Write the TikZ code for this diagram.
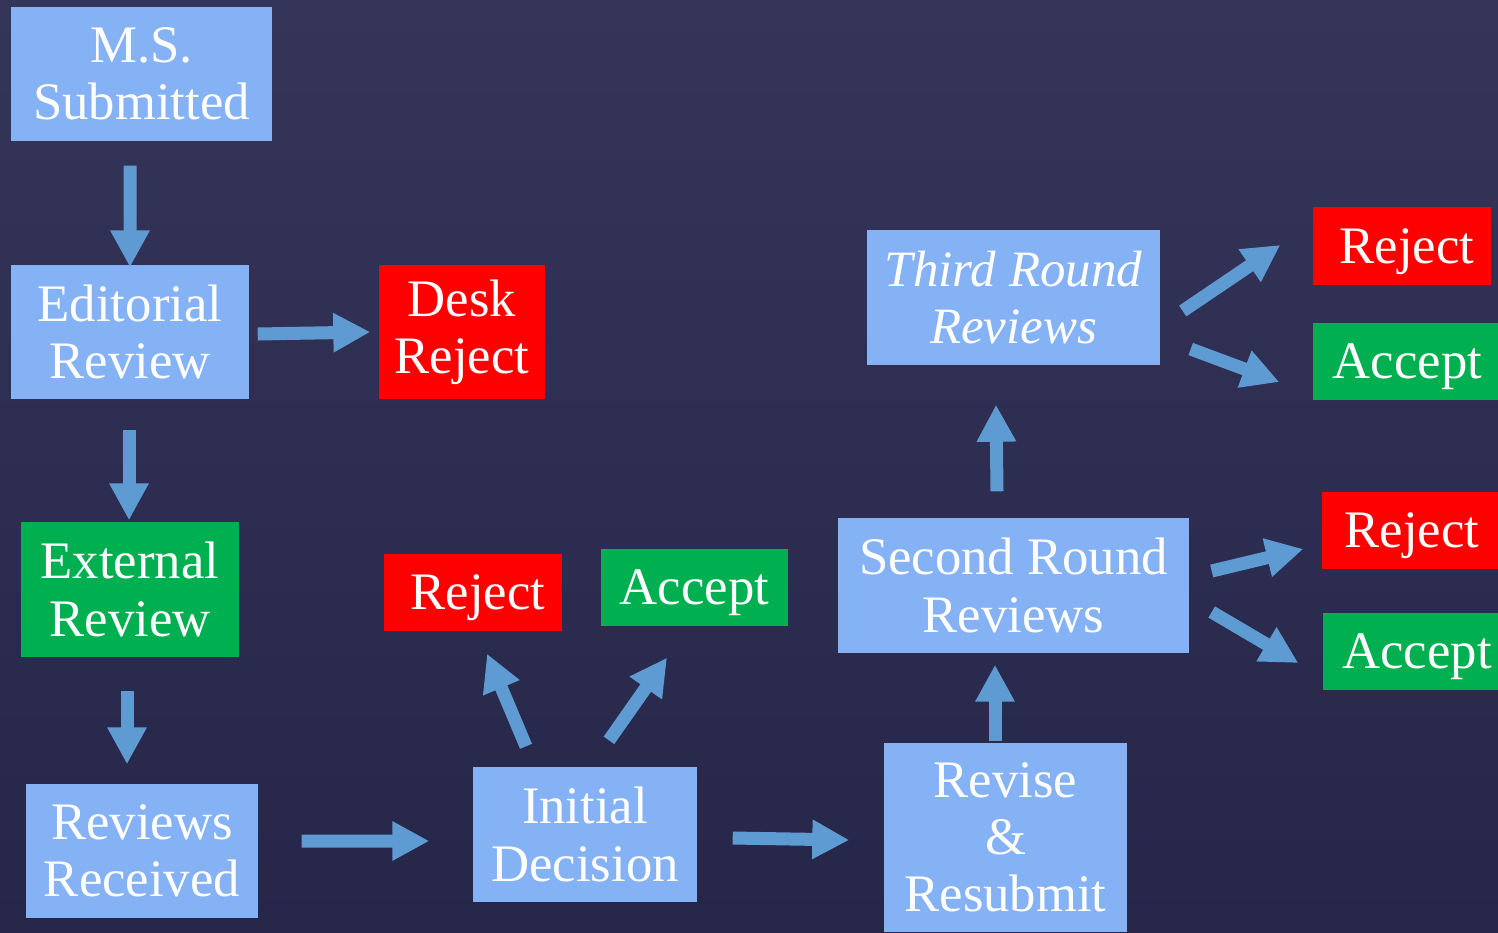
\documentclass[tikz,border=0pt]{standalone}
\usepackage{fontspec}
\setmainfont{Liberation Serif}
\usetikzlibrary{arrows.meta}

\definecolor{bgtop}{HTML}{35355A}
\definecolor{bgbot}{HTML}{262649}
\definecolor{boxblue}{HTML}{85B1F5}
\definecolor{arrowblue}{HTML}{5F9BD3}
\definecolor{rejred}{HTML}{FF0000}
\definecolor{accgreen}{HTML}{00B050}

\tikzset{
  stage/.style={fill=boxblue, text=white, align=center, inner sep=0pt,
    font=\fontsize{15}{16.3}\selectfont},
  rejbox/.style={stage, fill=rejred},
  accbox/.style={stage, fill=accgreen},
  verdict/.style={text depth=0pt},
  flow/.style={draw=arrowblue, line width=1.3mm,
    -{Triangle[width=3.7mm,length=3.7mm]}},
}

\begin{document}
\begin{tikzpicture}

% background
\useasboundingbox (0,0) rectangle (14.98,-9.32);
\shade[top color=bgtop, bottom color=bgbot] (0,0) rectangle (14.98,-9.32);
\clip (0,0) rectangle (14.98,-9.32);

% first round
\node[stage, minimum width=2.61cm, minimum height=1.34cm] (ms) at (1.415,-0.74) {M.S.\\Submitted};
\node[stage, minimum width=2.38cm, minimum height=1.34cm] (edit) at (1.30,-3.32) {Editorial\\Review};
\node[rejbox, minimum width=1.66cm, minimum height=1.34cm] (desk) at (4.62,-3.32) {Desk\\Reject};
\node[accbox, minimum width=2.18cm, minimum height=1.35cm] (ext) at (1.30,-5.895) {External\\Review};
\node[stage, minimum width=2.32cm, minimum height=1.34cm] (recv) at (1.42,-8.51) {Reviews\\Received};
\node[stage, minimum width=2.24cm, minimum height=1.35cm] (init) at (5.85,-8.345) {Initial\\Decision};
\node[rejbox, verdict, minimum width=1.78cm, minimum height=0.77cm] (rej1) at (4.73,-5.925) {\hspace*{0.1cm}Reject};
\node[accbox, verdict, minimum width=1.87cm, minimum height=0.77cm] (acc1) at (6.945,-5.875) {Accept};

% later rounds
\node[stage, minimum width=2.43cm, minimum height=1.89cm] (rev) at (10.055,-8.375) {Revise\\\&\\Resubmit};
\node[stage, minimum width=3.51cm, minimum height=1.35cm] (sec) at (10.135,-5.855) {Second Round\\Reviews};
\node[stage, minimum width=2.93cm, minimum height=1.35cm, font=\fontsize{14.5}{16.3}\selectfont\itshape] (third) at (10.135,-2.975) {Third Round\\Reviews};
\node[rejbox, verdict, minimum width=1.78cm, minimum height=0.78cm] (rej3) at (14.02,-2.46) {\hspace*{0.1cm}Reject};
\node[accbox, verdict, minimum width=1.89cm, minimum height=0.77cm] (acc3) at (14.075,-3.615) {Accept};
\node[rejbox, verdict, minimum width=1.80cm, minimum height=0.77cm] (rej2) at (14.12,-5.305) {Reject};
\node[accbox, verdict, minimum width=1.88cm, minimum height=0.77cm] (acc2) at (14.17,-6.515) {Accept};

% arrows
\draw[flow] ([shift={(-0.115,-0.24)}]ms.south) -- ([shift={(0,-0.03)}]edit.north);
\draw[flow] ([shift={(0.08,-0.02)}]edit.east) -- ([shift={(-0.08,0)}]desk.west);
\draw[flow] ([shift={(-0.01,-0.30)}]edit.south) -- ([shift={(-0.01,0.01)}]ext.north);
\draw[flow] ([shift={(-0.03,-0.33)}]ext.south) -- ([shift={(-0.15,0.19)}]recv.north);
\draw[flow] ([shift={(0.43,0.10)}]recv.east) -- ([shift={(-0.43,-0.065)}]init.west);
\draw[flow] ([shift={(-0.59,0.20)}]init.north) -- ([shift={(0.14,-0.22)}]rej1.south);
\draw[flow] ([shift={(0.24,0.26)}]init.north) -- ([shift={(-0.275,-0.31)}]acc1.south);
\draw[flow] ([shift={(0.35,-0.035)}]init.east) -- ([shift={(-0.34,-0.025)}]rev.west);
\draw[flow] ([shift={(-0.105,0.01)}]rev.north) -- ([shift={(-0.185,-0.11)}]sec.south);
\draw[flow] ([shift={(-0.165,0.26)}]sec.north) -- ([shift={(-0.175,-0.39)}]third.south);
\draw[flow] ([shift={(0.22,0.145)}]sec.east) -- ([shift={(-0.18,-0.185)}]rej2.west);
\draw[flow] ([shift={(0.22,-0.265)}]sec.east) -- ([shift={(-0.24,-0.115)}]acc2.west);
\draw[flow] ([shift={(0.22,-0.135)}]third.east) -- ([shift={(-0.32,0.01)}]rej3.west);
\draw[flow] ([shift={(0.30,-0.515)}]third.east) -- ([shift={(-0.33,-0.205)}]acc3.west);

\end{tikzpicture}
\end{document}
